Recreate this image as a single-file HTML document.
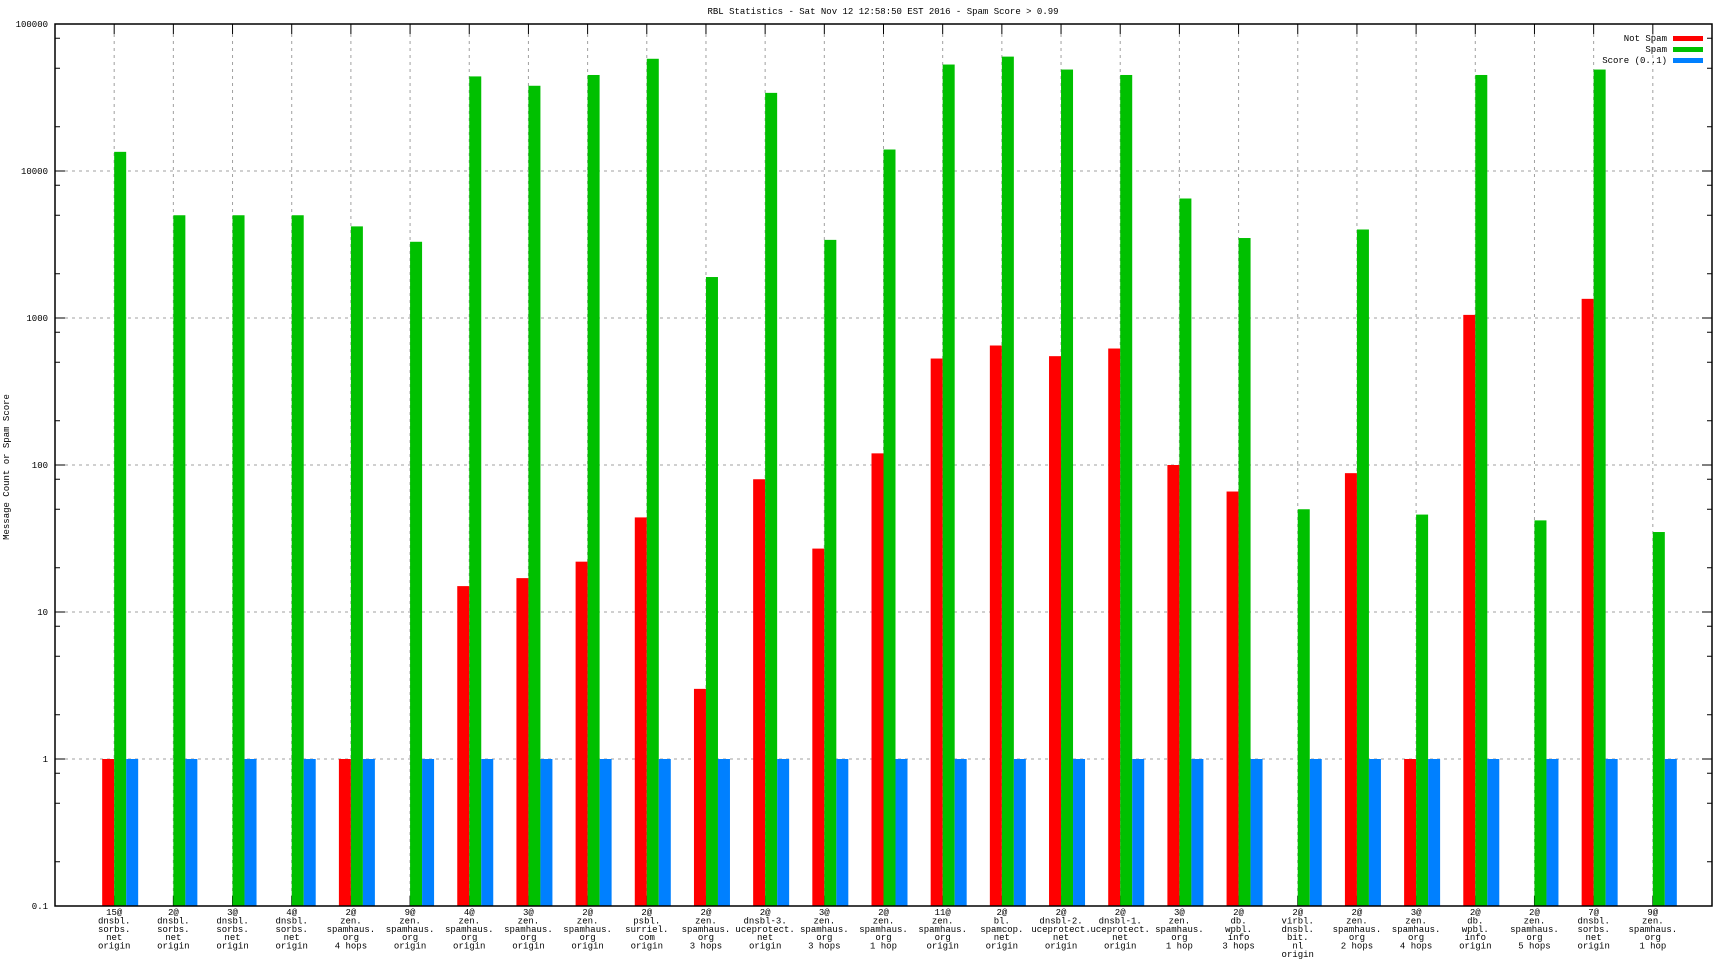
<!DOCTYPE html>
<html><head><meta charset="utf-8"><style>
body{margin:0;background:#fff}
svg{display:block;font-family:"Liberation Mono",monospace}
</style></head><body>
<svg id="c" width="1728" height="972"></svg>
<script>
const categories=[
["15@","dnsbl.","sorbs.","net","origin"],["2@","dnsbl.","sorbs.","net","origin"],["3@","dnsbl.","sorbs.","net","origin"],["4@","dnsbl.","sorbs.","net","origin"],
["2@","zen.","spamhaus.","org","4 hops"],["9@","zen.","spamhaus.","org","origin"],["4@","zen.","spamhaus.","org","origin"],["3@","zen.","spamhaus.","org","origin"],
["2@","zen.","spamhaus.","org","origin"],["2@","psbl.","surriel.","com","origin"],["2@","zen.","spamhaus.","org","3 hops"],["2@","dnsbl-3.","uceprotect.","net","origin"],
["3@","zen.","spamhaus.","org","3 hops"],["2@","zen.","spamhaus.","org","1 hop"],["11@","zen.","spamhaus.","org","origin"],["2@","bl.","spamcop.","net","origin"],
["2@","dnsbl-2.","uceprotect.","net","origin"],["2@","dnsbl-1.","uceprotect.","net","origin"],["3@","zen.","spamhaus.","org","1 hop"],["2@","db.","wpbl.","info","3 hops"],
["2@","virbl.","dnsbl.","bit.","nl","origin"],["2@","zen.","spamhaus.","org","2 hops"],["3@","zen.","spamhaus.","org","4 hops"],["2@","db.","wpbl.","info","origin"],
["2@","zen.","spamhaus.","org","5 hops"],["7@","dnsbl.","sorbs.","net","origin"],["9@","zen.","spamhaus.","org","1 hop"]];
const notSpam=[1,null,null,null,1,null,15,17,22,44,3,80,27,120,530,650,550,620,100,66,null,88,1,1050,null,1350,null];
const spam=[13500,5000,5000,5000,4200,3300,44000,38000,45000,58000,1900,34000,3400,14000,53000,60000,49000,45000,6500,3500,50,4000,46,45000,42,49000,35];
const score=[1,1,1,1,1,1,1,1,1,1,1,1,1,1,1,1,1,1,1,1,1,1,1,1,1,1,1];
const yTicks=[0.1,1,10,100,1000,10000,100000];
const yTickLabels=["0.1","1","10","100","1000","10000","100000"];

const NS="http://www.w3.org/2000/svg",svg=document.getElementById("c");
const L=55,R=1712,T=24,B=906;
const xs=i=>L+(i+1)*(R-L)/28;
const ys=v=>B-(Math.log10(v)+1)*(B-T)/6;
function mk(t,a,p){const e=document.createElementNS(NS,t);for(const k in a)e.setAttribute(k,a[k]);(p||svg).appendChild(e);return e;}

let t=mk("text",{x:883,y:14,"text-anchor":"middle","font-size":9});t.textContent="RBL Statistics - Sat Nov 12 12:58:50 EST 2016 - Spam Score > 0.99";


t=mk("text",{x:0,y:0,transform:"translate(9,467) rotate(-90)","text-anchor":"middle","font-size":9});t.textContent="Message Count or Spam Score";



// grid
yTicks.forEach((v,i)=>{const y=ys(v);
 if(i>0&&i<yTicks.length-1){const g=mk("line",{x1:L+10,x2:R-10,y1:y,y2:y,stroke:"#a0a0a0","stroke-dasharray":"3,4"});
 
 }
 mk("line",{x1:L,x2:L+10,y1:y,y2:y,stroke:"#000"});mk("line",{x1:R,x2:R-10,y1:y,y2:y,stroke:"#000"});
 const l=mk("text",{x:L-7,y:y+3,"text-anchor":"end","font-size":9});l.textContent=yTickLabels[i];
 
 
 if(i<yTicks.length-1)[2,5,8].forEach(m=>{const yy=ys(v*m);mk("line",{x1:L,x2:L+5,y1:yy,y2:yy,stroke:"#000"});mk("line",{x1:R,x2:R-5,y1:yy,y2:yy,stroke:"#000"});});
});
categories.forEach((c,i)=>{const x=xs(i);
 const g=mk("line",{x1:x,x2:x,y1:T+10,y2:B-10,stroke:"#a0a0a0","stroke-dasharray":"3,4"});
 
 
 mk("line",{x1:x,x2:x,y1:T,y2:T+10,stroke:"#000"});mk("line",{x1:x,x2:x,y1:B,y2:B-10,stroke:"#000"});
 const tx=mk("text",{x:x,y:915,"text-anchor":"middle","font-size":9});
 
 
 c.forEach((s,j)=>{const ts=mk("tspan",{x:x,dy:j?8.4:0},tx);ts.textContent=s;});
});
// bars
const W=12;
function bars(arr,off,col,name){arr.forEach((v,i)=>{if(v==null)return;const x=xs(i)+off,y=ys(v);
 const r=mk("rect",{x:x,y:y,width:W,height:B-y,fill:col});
 
 });}
bars(notSpam,-12,"#ff0000","bar-not-spam");
bars(spam,0,"#00c000","bar-spam");
bars(score,12,"#0080ff","bar-score");
const fr=mk("rect",{x:L,y:T,width:R-L,height:B-T,fill:"none",stroke:"#000","stroke-width":1.5});


// legend
[["Not Spam","#ff0000"],["Spam","#00c000"],["Score (0..1)","#0080ff"]].forEach((e,i)=>{const y=38+i*11;
 const lt=mk("text",{x:1667,y:y+3,"text-anchor":"end","font-size":9});lt.textContent=e[0];
 
 
 const sw=mk("rect",{x:1673,y:y-2,width:30,height:5,fill:e[1]});
 
 });
</script>
</body></html>
